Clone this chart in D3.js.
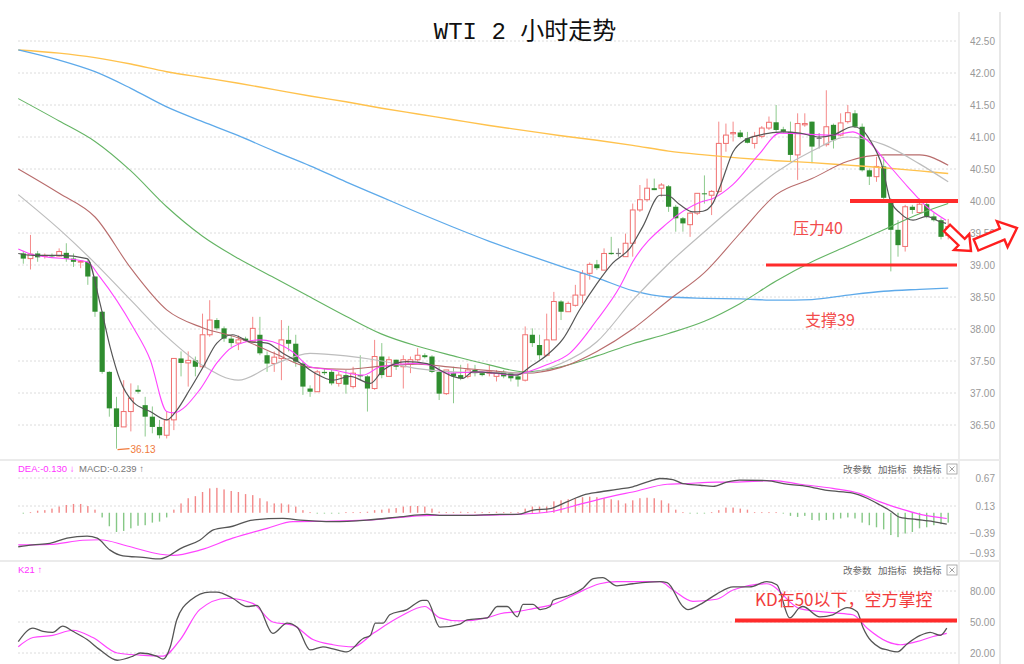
<!DOCTYPE html>
<html><head><meta charset="utf-8">
<script src="https://cdn.jsdelivr.net/npm/d3@7"></script>
<style>html,body{margin:0;padding:0;background:#fff;} svg{display:block;}</style>
</head><body><svg id="c" width="1024" height="664"></svg>
<script>
// ---------- DATA ----------
const opens  = [39.18,39.10,39.18,39.14,39.15,39.14,39.19,39.10,39.05,39.05,38.82,38.27,37.33,36.76,36.47,36.71,37.05,36.81,36.63,36.47,36.34,36.58,37.54,37.47,37.51,37.41,37.91,38.14,38.01,37.85,37.78,37.85,37.80,37.91,37.59,37.46,37.54,37.83,37.77,37.46,37.07,37.02,37.33,37.33,37.15,37.28,37.10,37.28,37.26,37.07,37.57,37.26,37.52,37.41,37.45,37.52,37.59,37.57,37.33,36.99,37.31,37.28,37.26,37.36,37.31,37.31,37.26,37.33,37.31,37.26,37.20,37.91,37.75,37.59,37.83,38.43,38.27,38.37,38.53,38.87,39.01,38.92,39.19,39.18,39.13,39.34,39.86,40.02,40.20,40.20,40.23,39.91,39.73,39.63,39.81,40.12,40.09,40.15,40.90,41.05,41.07,40.98,40.90,41.01,41.14,41.23,41.12,41.08,40.72,41.19,41.24,40.98,40.88,41.19,41.03,41.24,41.37,41.16,40.48,40.38,40.54,40.02,39.55,39.29,39.91,39.82,39.95,39.76,39.70,39.46];
const highs  = [39.22,39.47,39.22,39.18,39.18,39.26,39.34,39.18,39.06,39.09,38.82,38.28,37.34,36.94,37.20,37.15,37.12,36.94,36.79,36.58,36.71,37.54,37.65,37.65,37.57,38.24,38.45,38.17,38.04,37.90,37.90,37.88,38.19,38.19,37.65,37.65,38.14,38.05,37.91,37.49,37.12,37.36,37.38,37.36,37.33,37.36,37.41,37.59,37.28,37.83,37.78,37.57,37.52,37.59,37.57,37.70,37.62,37.59,37.41,37.36,37.41,37.44,37.46,37.44,37.33,37.44,37.36,37.36,37.33,37.31,38.04,38.01,37.91,38.24,38.58,38.45,38.43,38.69,38.92,39.04,39.08,39.26,39.44,39.26,39.49,39.96,40.25,40.35,40.35,40.28,40.25,39.94,39.75,39.83,40.12,40.40,40.17,41.24,41.21,41.24,41.11,41.08,41.08,41.17,41.32,41.50,41.16,41.24,41.37,41.37,41.24,41.06,41.73,41.21,41.37,41.50,41.42,41.21,40.51,40.69,40.69,40.04,39.70,39.94,39.94,40.04,39.99,39.81,39.73,39.72];
const lows   = [39.02,38.93,39.05,39.10,39.12,39.13,39.05,38.97,38.95,38.69,38.19,37.30,36.63,36.13,36.47,36.40,36.99,36.32,36.37,36.29,36.29,36.42,37.26,37.10,37.26,37.39,37.88,37.98,37.80,37.72,37.67,37.80,37.80,37.59,37.33,37.33,37.20,37.65,37.41,36.97,36.94,37.02,37.28,37.12,37.10,36.99,37.07,37.20,36.71,37.05,37.23,37.26,37.36,37.07,37.31,37.49,37.54,37.31,36.89,36.97,36.84,37.20,37.23,37.26,37.26,37.26,37.18,37.23,37.18,37.10,37.18,37.72,37.52,37.57,37.83,38.14,38.27,38.35,38.40,38.77,38.92,38.92,39.16,39.13,39.13,39.13,39.83,39.99,40.17,40.07,39.83,39.52,39.52,39.44,39.78,39.96,39.78,40.12,40.77,40.93,40.98,40.90,40.82,40.98,41.11,41.08,41.06,40.62,40.33,41.16,40.59,40.82,40.85,40.82,41.01,41.21,41.14,40.46,40.25,40.30,39.97,38.90,39.13,39.21,39.80,39.80,39.73,39.68,39.40,39.40];
const closes = [39.10,39.17,39.12,39.15,39.14,39.21,39.10,39.05,39.06,38.82,38.27,37.33,36.76,36.47,36.71,36.92,37.02,36.63,36.47,36.34,36.58,37.54,37.47,37.51,37.41,37.91,38.14,38.01,37.85,37.78,37.83,37.82,38.01,37.62,37.46,37.56,37.83,37.77,37.49,37.10,37.02,37.33,37.31,37.15,37.28,37.13,37.31,37.26,37.07,37.57,37.28,37.52,37.41,37.52,37.52,37.59,37.56,37.33,36.99,37.36,37.26,37.23,37.36,37.31,37.28,37.33,37.31,37.26,37.23,37.21,37.91,37.78,37.59,37.83,38.43,38.27,38.40,38.53,38.87,39.01,38.95,39.18,39.17,39.18,39.34,39.86,40.02,40.20,40.17,40.25,39.91,39.73,39.65,39.81,40.12,40.11,40.15,40.90,41.03,41.07,41.00,40.91,41.01,41.14,41.23,41.11,41.08,40.72,41.21,41.21,40.85,40.98,41.16,40.95,41.22,41.38,41.16,40.48,40.38,40.54,40.05,39.55,39.31,39.91,39.86,39.95,39.76,39.70,39.44,39.60];

// moving averages: fast ones as [candle index, price] points
const ma5Pts  = [[-0.7,39.18],[1.4,39.15],[5.1,39.15],[8.9,39.10],[10.7,38.40],[12.1,37.72],[13.5,37.20],[15.3,36.86],[17.7,36.71],[20.0,36.58],[21.4,36.73],[23.2,37.05],[25.1,37.41],[27.0,37.78],[29.2,37.91],[31.6,37.80],[34.0,37.78],[36.2,37.62],[38.6,37.47],[40.7,37.31],[43.2,37.20],[45.6,37.26],[48.4,37.15],[50.2,37.36],[53.5,37.49],[56.3,37.46],[58.1,37.36],[59.9,37.26],[61.3,37.23],[62.7,37.33],[66.1,37.31],[68.9,37.28],[70.7,37.41],[73.0,37.59],[75.3,37.85],[77.6,38.30],[80.0,38.71],[82.2,39.03],[84.6,39.26],[86.4,39.60],[88.8,40.09],[89.8,40.09],[91.6,39.94],[93.4,39.83],[94.8,39.84],[96.1,39.95],[97.2,40.23],[99.0,40.77],[100.6,40.95],[102.7,41.03],[105.9,41.08],[108.3,41.06],[111.1,41.00],[112.9,41.03],[115.7,41.16],[116.9,41.12],[118.1,40.95],[119.8,40.54],[120.9,40.02],[122.3,39.81],[124.1,39.70],[126.0,39.76],[127.8,39.68],[128.7,39.65]];
const ma10Pts = [[-0.7,39.25],[1.4,39.16],[8.9,39.05],[10.7,38.81],[15.3,38.03],[17.7,37.52],[20.0,36.71],[20.9,36.69],[24.6,37.05],[27.0,37.47],[29.2,37.72],[33.0,37.83],[34.8,37.80],[37.6,37.64],[40.0,37.41],[43.2,37.36],[47.4,37.28],[49.8,37.41],[54.4,37.46],[56.7,37.44],[59.1,37.31],[63.7,37.33],[68.3,37.28],[69.7,37.31],[73.0,37.44],[76.2,37.62],[80.0,38.14],[83.2,38.66],[85.0,39.05],[89.8,39.65],[94.4,39.98],[96.2,40.04],[99.0,40.26],[102.7,40.74],[105.5,41.06],[112.9,41.03],[115.7,41.08],[117.7,40.95],[120.5,40.59],[123.3,40.23],[126.0,39.91],[128.7,39.70]];
// slow averages sampled every 5 candles
const slowIdx = [-0.7,5,10,15,20,25,30,35,40,45,50,55,60,65,70,75,80,85,90,95,100,105,110,115,120,125,129];
const ma20  = [40.10,39.56,39.03,38.45,37.88,37.43,37.20,37.45,37.62,37.58,37.50,37.38,37.33,37.32,37.31,37.46,37.80,38.45,39.02,39.52,40.00,40.45,40.78,41.00,40.88,40.58,40.30];
const ma30  = [40.50,40.12,39.75,38.95,38.30,38.02,37.86,37.62,37.40,37.37,37.42,37.45,37.40,37.35,37.31,37.40,37.65,38.00,38.45,38.88,39.50,40.10,40.35,40.62,40.72,40.72,40.56];
const ma60  = [41.60,41.25,40.93,40.47,39.91,39.45,39.10,38.80,38.50,38.20,37.92,37.73,37.58,37.44,37.33,37.41,37.58,37.77,37.93,38.12,38.40,38.75,39.05,39.30,39.55,39.80,39.96];
const ma120 = [42.36,42.20,42.02,41.76,41.47,41.24,41.02,40.78,40.55,40.30,40.06,39.82,39.59,39.37,39.17,38.98,38.80,38.60,38.50,38.48,38.47,38.45,38.46,38.53,38.59,38.62,38.64];
const ma250 = [42.36,42.31,42.24,42.14,42.02,41.93,41.84,41.74,41.64,41.55,41.45,41.36,41.27,41.18,41.10,41.02,40.95,40.87,40.78,40.72,40.67,40.63,40.60,40.56,40.52,40.47,40.43];

// MACD histogram (one per candle) and DIF / DEA lines
const macdHist = [-0.01,0.01,0.04,0.05,0.08,0.12,0.15,0.17,0.17,0.13,0.06,-0.09,-0.26,-0.37,-0.35,-0.30,-0.25,-0.24,-0.19,-0.17,-0.09,0.06,0.18,0.28,0.32,0.40,0.47,0.48,0.45,0.42,0.40,0.36,0.34,0.28,0.22,0.18,0.18,0.16,0.12,0.05,0.01,-0.01,-0.01,-0.01,-0.01,0.01,0.01,0.01,0.02,0.05,0.06,0.08,0.09,0.12,0.13,0.13,0.12,0.08,0.02,0.01,0.01,0.02,0.01,0.02,0.01,0.01,0.02,0.01,0.01,0.01,0.08,0.12,0.12,0.12,0.22,0.24,0.26,0.28,0.30,0.31,0.30,0.28,0.26,0.24,0.18,0.24,0.28,0.29,0.28,0.24,0.18,0.06,0.01,-0.01,-0.01,-0.01,0.01,0.05,0.10,0.10,0.08,0.06,0.01,0.01,0.01,0.01,-0.01,-0.06,-0.08,-0.06,-0.14,-0.15,-0.14,-0.13,-0.11,-0.09,-0.11,-0.19,-0.24,-0.28,-0.32,-0.43,-0.47,-0.40,-0.37,-0.30,-0.28,-0.24,-0.22,-0.19];
const difPts = [[-0.7,-0.655],[1.35,-0.62],[3.7,-0.59],[6.1,-0.49],[8.9,-0.45],[10.3,-0.49],[12.1,-0.72],[13.9,-0.83],[16.7,-0.86],[19.1,-0.89],[20.0,-0.85],[21.9,-0.69],[24.6,-0.53],[26.5,-0.33],[29.2,-0.26],[32.0,-0.14],[36.2,-0.11],[38.6,-0.14],[40.9,-0.16],[43.2,-0.17],[47.9,-0.14],[52.5,-0.08],[56.3,-0.03],[58.5,-0.05],[61.9,-0.05],[66.5,-0.03],[68.9,-0.03],[71.1,0.05],[73.5,0.08],[75.8,0.21],[78.1,0.34],[80.4,0.40],[82.8,0.45],[85.0,0.50],[87.4,0.61],[88.8,0.66],[90.6,0.64],[92.0,0.56],[94.4,0.53],[96.2,0.51],[98.1,0.59],[99.9,0.63],[103.7,0.62],[106.5,0.55],[109.3,0.51],[112.1,0.43],[115.7,0.38],[117.7,0.28],[119.5,0.15],[120.9,0.04],[122.3,-0.09],[124.6,-0.13],[126.9,-0.17],[128.8,-0.22]];
const deaPts = [[-0.7,-0.62],[3.7,-0.61],[8.3,-0.53],[10.7,-0.52],[14.5,-0.64],[19.1,-0.80],[20.9,-0.82],[24.6,-0.72],[29.2,-0.49],[34.0,-0.30],[37.6,-0.17],[43.2,-0.16],[47.9,-0.14],[57.1,-0.05],[61.9,-0.05],[68.9,-0.03],[73.5,0.02],[78.1,0.18],[82.8,0.34],[85.0,0.40],[89.8,0.55],[92.0,0.56],[96.7,0.59],[99.0,0.59],[104.6,0.62],[108.3,0.55],[112.9,0.47],[116.7,0.37],[119.5,0.21],[122.3,0.08],[125.1,-0.03],[128.8,-0.11]];

// KD lines
const kPts = [[-0.7,31],[1.35,44],[2.75,41],[4.1,40],[5.5,46],[6.9,41],[8.9,33],[10.7,23],[13.1,13],[15.3,17],[16.3,20],[18.6,17],[19.5,14],[20.5,26],[21.4,52],[23.3,71],[26.0,79],[27.0,79],[29.2,73],[31.2,65],[32.6,66],[34.8,39],[36.8,49],[38.2,45],[40.0,23],[41.8,26],[43.2,24],[45.1,21],[47.4,34],[48.4,37],[49.1,49],[50.2,49],[51.1,57],[53.5,62],[55.7,71],[56.3,71],[58.1,45],[60.9,48],[61.9,52],[64.7,54],[66.1,65],[67.5,65],[68.9,55],[69.7,67],[71.1,67],[72.1,62],[73.5,65],[73.9,71],[75.8,75],[78.1,83],[79.5,92],[80.8,93],[82.8,85],[85.0,87],[88.8,89],[89.8,88],[92.0,65],[92.7,62],[94.4,67],[96.7,77],[99.0,84],[101.3,84],[103.7,89],[105.1,86],[106.9,54],[108.3,64],[108.7,65],[111.1,55],[112.9,57],[114.9,64],[116.3,60],[117.1,45],[119.5,25],[120.5,23],[121.9,21],[123.3,29],[125.1,37],[126.5,40],[127.9,37],[128.8,44]];
const dPts = [[-0.7,26],[1.35,35],[4.1,37],[6.9,42],[9.7,35],[13.1,20],[16.3,18],[19.5,17],[21.9,33],[24.6,62],[28.4,73],[32.0,68],[34.8,50],[37.6,47],[40.4,33],[43.2,28],[46.0,26],[48.8,39],[52.5,55],[56.0,65],[58.1,54],[60.9,51],[64.7,54],[66.5,58],[68.9,60],[71.1,63],[73.9,67],[76.7,76],[80.4,87],[82.8,89],[88.8,89],[90.6,81],[93.4,70],[96.7,72],[99.0,81],[103.7,87],[108.3,63],[112.9,59],[115.7,57],[117.7,44],[120.5,31],[122.3,28],[124.6,31],[126.9,36],[128.8,39]];

// tick labels
const priceTicks = [42.5,42.0,41.5,41.0,40.5,40.0,39.5,39.0,38.5,38.0,37.5,37.0,36.5];
const macdTicks  = [0.67,0.13,-0.39,-0.93];
const kdTicks    = [80,50,20];
const title = "WTI 2 小时走势";
const lowLabel = "36.13";

// ---------- SCALES ----------
const svg = d3.select("#c");
svg.append("rect").attr("width",1024).attr("height",664).attr("fill","#fff");
const N = closes.length;
const x = d3.scaleLinear().domain([0, N-1]).range([23.3, 948.2]);
const yP = d3.scaleLinear().domain([36.5, 42.5]).range([425, 41]);
const yM = d3.scaleLinear().domain([-0.39, 0.67]).range([533, 478]);
const yK = d3.scaleLinear().domain([20, 80]).range([653, 591]);
const gridL = 18, gridR = 958;
const labelFont = "Liberation Sans, Arial, sans-serif";
const cjk = "'Noto Sans CJK SC', 'Noto Sans', sans-serif";

// frame lines
svg.append("line").attr("x1",959).attr("x2",959).attr("y1",12).attr("y2",664).attr("stroke","#e2e2e2").attr("stroke-width",1.2);
svg.append("line").attr("x1",1000).attr("x2",1000).attr("y1",12).attr("y2",664).attr("stroke","#d8d8d8").attr("stroke-width",1.2);
svg.append("line").attr("x1",0).attr("x2",1000).attr("y1",460).attr("y2",460).attr("stroke","#ebebeb").attr("stroke-width",2);
svg.append("line").attr("x1",0).attr("x2",1000).attr("y1",561).attr("y2",561).attr("stroke","#ebebeb").attr("stroke-width",2);

// grids + labels
function grid(ticks, sc, fmt, clampMax){
  ticks.forEach(t=>{
    let yy = sc(t);
    const inRange = clampMax === undefined || yy <= clampMax;
    if (inRange) svg.append("line").attr("x1",gridL).attr("x2",gridR).attr("y1",yy).attr("y2",yy)
       .attr("stroke","#dcdcdc").attr("stroke-dasharray","2,2");
    if (clampMax !== undefined) yy = Math.min(yy, clampMax - 2 + 15);
    svg.append("text").attr("x",995).attr("y",yy+3.5).attr("text-anchor","end")
      .attr("font-family",labelFont).attr("font-size",10).attr("fill","#999").text(fmt(t));
  });
}
grid(priceTicks, yP, d3.format(".2f"));
grid(macdTicks, yM, d3.format(".2f"), 540);
grid(kdTicks, yK, d3.format(".2f"));

// title
const tt = svg.append("text").attr("x",525).attr("y",39).attr("text-anchor","middle").attr("fill","#111").attr("font-size",24);
tt.append("tspan").attr("font-family","Liberation Mono, monospace").text(title.slice(0,6));
tt.append("tspan").attr("font-family",cjk).text(title.slice(6));

// ---------- CANDLES ----------
const cg = svg.append("g");
d3.range(N).forEach(i=>{
  const o=opens[i], c=closes[i], h=highs[i], l=lows[i];
  const doji = Math.abs(o-c) < 0.001;
  const up = c > o;
  const wick = doji ? "#888" : (up ? "#f58a8a" : "#8dca8d");
  cg.append("line").attr("x1",x(i)).attr("x2",x(i)).attr("y1",yP(h)).attr("y2",yP(l)).attr("stroke",wick).attr("stroke-width",1);
  const top = yP(Math.max(o,c)), hgt = Math.max(1, Math.abs(yP(o)-yP(c)));
  if (doji) {
    cg.append("line").attr("x1",x(i)-2.5).attr("x2",x(i)+2.5).attr("y1",top).attr("y2",top).attr("stroke","#777").attr("stroke-width",1.2);
  } else if (up) {
    cg.append("rect").attr("x",x(i)-2.4).attr("y",top).attr("width",4.8).attr("height",hgt)
      .attr("fill","#fff").attr("stroke","#f07070").attr("stroke-width",1);
  } else {
    cg.append("rect").attr("x",x(i)-2.6).attr("y",top).attr("width",5.2).attr("height",hgt)
      .attr("fill","#2f8d2f");
  }
});

// ---------- MOVING AVERAGES ----------
function drawLine(pts, sc, color, w){
  svg.append("path").attr("d", d3.line().x(d=>x(d[0])).y(d=>sc(d[1])).curve(d3.curveMonotoneX)(pts))
    .attr("fill","none").attr("stroke",color).attr("stroke-width",w);
}
const slow = arr => slowIdx.map((i,k)=>[i, arr[k]]);
drawLine(slow(ma250), yP, "#ffc24d", 1.4);
drawLine(slow(ma120), yP, "#5eaaea", 1.3);
drawLine(slow(ma60),  yP, "#64b464", 1.1);
drawLine(slow(ma30),  yP, "#b86c6c", 1.1);
drawLine(slow(ma20),  yP, "#bdbdbd", 1.2);
drawLine(ma10Pts, yP, "#ff44ff", 1.1);
drawLine(ma5Pts,  yP, "#555", 1.2);

// low annotation
const li = closes.length ? lows.indexOf(d3.min(lows)) : 0;
svg.append("line").attr("x1",x(li)+1).attr("x2",x(li)+13).attr("y1",yP(lows[li])+1).attr("y2",yP(lows[li])).attr("stroke","#f07a3c").attr("stroke-width",1.2);
svg.append("text").attr("x",x(li)+14).attr("y",yP(lows[li])+4).attr("font-family",labelFont).attr("font-size",10).attr("fill","#f07a3c").text(lowLabel);

// resistance/support
svg.append("line").attr("x1",850).attr("x2",958).attr("y1",yP(40)).attr("y2",yP(40)).attr("stroke","#ff2b2b").attr("stroke-width",4);
svg.append("line").attr("x1",766).attr("x2",957).attr("y1",yP(39)).attr("y2",yP(39)).attr("stroke","#ff2b2b").attr("stroke-width",3);
svg.append("text").attr("x",793).attr("y",234).attr("font-family",cjk).attr("font-size",16).attr("fill","#f24b4b").text("压力40");
svg.append("text").attr("x",805).attr("y",326).attr("font-family",cjk).attr("font-size",16).attr("fill","#f24b4b").text("支撑39");

// block arrows
function blockArrow(x0,y0,x1,y1,sw,hw,hl){
  const L = Math.hypot(x1-x0,y1-y0), a = Math.atan2(y1-y0,x1-x0);
  const pts = [[0,-sw],[L-hl,-sw],[L-hl,-hw],[L,0],[L-hl,hw],[L-hl,sw],[0,sw]];
  const p = pts.map(([u,v])=>[x0+u*Math.cos(a)-v*Math.sin(a), y0+u*Math.sin(a)+v*Math.cos(a)]);
  svg.append("polygon").attr("points",p.map(d=>d.join(",")).join(" ")).attr("fill","#fff").attr("stroke","#ff1e1e").attr("stroke-width",2.4).attr("stroke-linejoin","miter");
}
blockArrow(947,228,971,251,4.5,11,13);
blockArrow(976,245,1017,228,6,14,16);

// ---------- MACD ----------
svg.append("text").attr("x",18).attr("y",472).attr("font-family",labelFont).attr("font-size",9.5).attr("fill","#ff33ff").text("DEA:-0.130 ↓");
svg.append("text").attr("x",79).attr("y",472).attr("font-family",labelFont).attr("font-size",9.5).attr("fill","#777").text("MACD:-0.239 ↑");
const hg = svg.append("g");
macdHist.forEach((v,i)=>{
  hg.append("rect").attr("x",x(i)-0.7).attr("width",1.4)
    .attr("y",Math.min(yM(0),yM(v))).attr("height",Math.max(0.8,Math.abs(yM(v)-yM(0))))
    .attr("fill", v>=0 ? "#f38a8a" : "#86c886");
});
drawLine(deaPts, yM, "#ff44ff", 1.2);
drawLine(difPts, yM, "#555", 1.3);

// ---------- KD ----------
svg.append("text").attr("x",18).attr("y",573).attr("font-family",labelFont).attr("font-size",9.5).attr("fill","#ff33ff").text("K21 ↑");
drawLine(dPts, yK, "#ff44ff", 1.2);
drawLine(kPts, yK, "#555", 1.3);
svg.append("line").attr("x1",735).attr("x2",957).attr("y1",yK(50)-1.5).attr("y2",yK(50)-1.5).attr("stroke","#ff2b2b").attr("stroke-width",4);
svg.append("text").attr("x",755).attr("y",606).attr("font-family",cjk).attr("font-size",17).attr("fill","#f23c3c").text("KD在50以下，空方掌控");

// panel toolbars
[469, 570].forEach(yy=>{
  svg.append("text").attr("x",843).attr("y",yy+3.5).attr("font-family",cjk).attr("font-size",9.5).attr("fill","#666").text("改参数");
  svg.append("text").attr("x",878).attr("y",yy+3.5).attr("font-family",cjk).attr("font-size",9.5).attr("fill","#666").text("加指标");
  svg.append("text").attr("x",913).attr("y",yy+3.5).attr("font-family",cjk).attr("font-size",9.5).attr("fill","#666").text("换指标");
  svg.append("rect").attr("x",947).attr("y",yy-5).attr("width",10).attr("height",10).attr("fill","#fff").attr("stroke","#999").attr("stroke-width",0.8);
  svg.append("path").attr("d",`M${949.5},${yy-2.5}L${954.5},${yy+2.5}M${954.5},${yy-2.5}L${949.5},${yy+2.5}`).attr("stroke","#888").attr("stroke-width",0.8);
});
</script></body></html>
